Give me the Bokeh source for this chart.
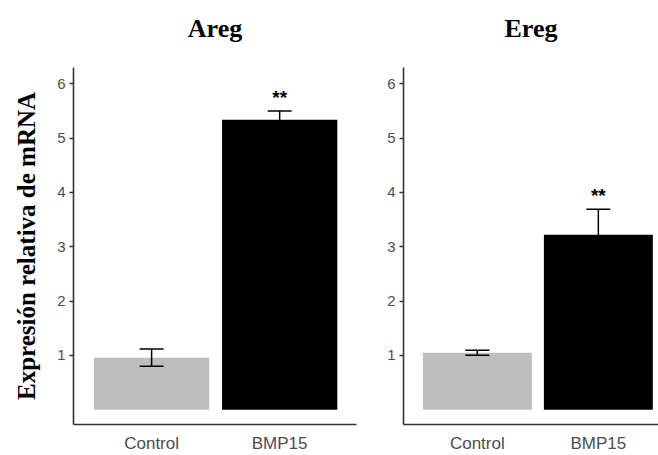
from bokeh.plotting import figure
from bokeh.layouts import row
from bokeh.models import Range1d, FixedTicker, ColumnDataSource, Whisker, TeeHead, Title
from bokeh.core.properties import value
from bokeh.embed import file_html
from bokeh.resources import INLINE

categories = ["Control", "BMP15"]
genes = ["Areg", "Ereg"]
areg_mean = [0.96, 5.34]
areg_se = [0.16, 0.16]
ereg_mean = [1.05, 3.22]
ereg_se = [0.045, 0.47]
signif = ["", "**"]
y_ticks = [1, 2, 3, 4, 5, 6]
bar_colors = ["#bebebe", "#000000"]


def panel(title, means, ses, width, border_left, border_right, x_end, title_offset, ylabel):
    p = figure(width=width, height=455, output_backend="svg", toolbar_location=None,
               x_range=Range1d(0.39, x_end), y_range=Range1d(-0.27, 6.3),
               min_border_left=border_left, min_border_right=border_right,
               min_border_top=67, min_border_bottom=28, title_location=None)
    p.outline_line_color = None
    p.grid.visible = False
    p.background_fill_color = "white"
    p.border_fill_color = "white"

    xs = list(range(1, len(categories) + 1))
    src = ColumnDataSource(dict(
        x=xs, top=means, color=bar_colors,
        upper=[m + s for m, s in zip(means, ses)],
        lower=[m - s for m, s in zip(means, ses)],
        star_y=[m + s + 0.06 for m, s in zip(means, ses)],
        star=signif))
    p.vbar(x="x", top="top", bottom=0, width=0.9, fill_color="color",
           line_color=None, source=src)
    w = Whisker(base="x", upper="upper", lower="lower", source=src,
                line_color="black", line_width=1.5, level="overlay",
                upper_head=TeeHead(size=24, line_color="black", line_width=1.5),
                lower_head=TeeHead(size=24, line_color="black", line_width=1.5))
    p.add_layout(w)
    p.text(x="x", y="star_y", text="star", source=src, text_align="center",
           text_baseline="bottom", text_font=value("Liberation Sans"),
           text_font_style="bold", text_font_size="19px", text_color="black")

    spacer = Title(text=" ", text_font_size="21px", standoff=0)
    p.add_layout(spacer, "above")
    t = Title(text=title, align="center", offset=title_offset,
              text_font="Liberation Serif", text_font_style="bold",
              text_font_size="26px", text_color="black", standoff=0)
    p.add_layout(t, "above")

    p.yaxis.ticker = FixedTicker(ticks=y_ticks)
    p.yaxis.minor_tick_line_color = None
    p.yaxis.major_tick_out = 4
    p.yaxis.major_tick_in = 0
    p.yaxis.major_tick_line_color = "#333333"
    p.yaxis.major_tick_line_width = 1.3
    p.yaxis.axis_line_color = "#333333"
    p.yaxis.axis_line_width = 1.6
    p.yaxis.major_label_text_color = "#4d4d4d"
    p.yaxis.major_label_text_font = "Liberation Sans"
    p.yaxis.major_label_text_font_size = "15px"
    p.yaxis.major_label_standoff = 4
    if ylabel:
        p.yaxis.axis_label = ylabel
        p.yaxis.axis_label_text_font = "Liberation Serif"
        p.yaxis.axis_label_text_font_style = "bold"
        p.yaxis.axis_label_text_font_size = "25px"
        p.yaxis.axis_label_text_color = "black"
        p.yaxis.axis_label_standoff = 14

    p.xaxis.ticker = FixedTicker(ticks=xs)
    p.xaxis.major_label_overrides = {x: c for x, c in zip(xs, categories)}
    p.xaxis.minor_tick_line_color = None
    p.xaxis.major_tick_out = 0
    p.xaxis.major_tick_in = 0
    p.xaxis.axis_line_color = "#333333"
    p.xaxis.axis_line_width = 1.6
    p.xaxis.major_label_text_color = "#4d4d4d"
    p.xaxis.major_label_text_font = "Liberation Sans"
    p.xaxis.major_label_text_font_size = "17px"
    p.xaxis.major_label_standoff = 9
    return p


p1 = panel(genes[0], areg_mean, areg_se, 365, 73, 9, 2.6, 0, "Expresión relativa de mRNA")
p2 = panel(genes[1], ereg_mean, ereg_se, 293, 38, 0, 2.497, 17, None)
layout = row(p1, p2, spacing=0)

open("out.html", "w").write(file_html(layout, INLINE))
